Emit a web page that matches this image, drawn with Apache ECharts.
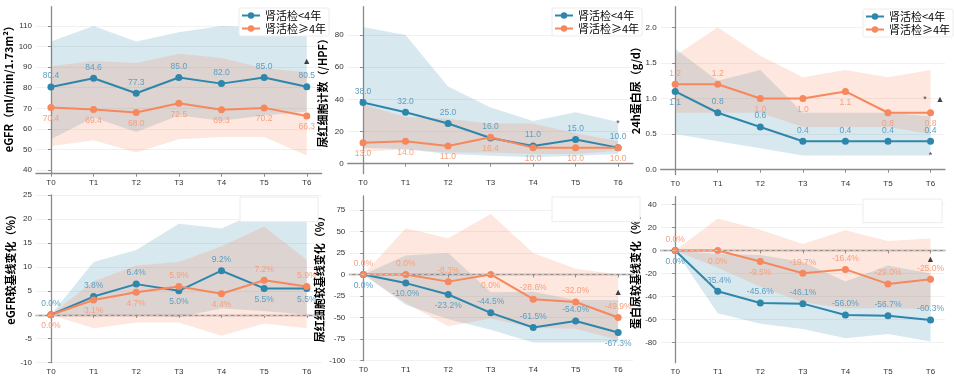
<!DOCTYPE html>
<html><head><meta charset="utf-8">
<script src="https://cdn.jsdelivr.net/npm/echarts@6/dist/echarts.min.js"></script>
<style>html,body{margin:0;padding:0;background:#fff}#c{width:954px;height:382px}</style>
</head><body><div id="c"></div>
<script>
// ---------- data ----------
const categories = ['T0','T1','T2','T3','T4','T5','T6'];
const groupNames = ['肾活检<4年','肾活检≥4年'];

// Panel 1: eGFR
const egfrShort = [80.4, 84.6, 77.3, 85.0, 82.0, 85.0, 80.5];
const egfrLong  = [70.4, 69.4, 68.0, 72.5, 69.3, 70.2, 66.3];
const egfrShortUp = [102.5, 110, 102.5, 107, 110, 109, 107];
const egfrShortLo = [55, 65.5, 58.5, 66.5, 64, 66.5, 68.5];
const egfrLongUp  = [90.5, 93, 92, 96.5, 94.5, 89.5, 87.5];
const egfrLongLo  = [51.5, 54.5, 48.5, 55, 56, 56, 47];
const egfrMarks = [[6, 92.6, '▲']];

// Panel 2: urine RBC count
const rbcShort = [38.0, 32.0, 25.0, 16.0, 11.0, 15.0, 10.0];
const rbcLong  = [13.0, 14.0, 11.0, 16.4, 10.0, 10.0, 10.0];
const rbcShortUp = [85, 80, 48, 35, 26.5, 32, 26];
const rbcShortLo = [10, 9, 6, 5, 4, 5, 6];
const rbcLongUp  = [37, 29, 28, 25, 25, 19, 14];
const rbcLongLo  = [7.5, 9, 7, 7, 6, 6, 8];
const rbcMarks = [[6, 25, '*']];

// Panel 3: 24h proteinuria
const protShort = [1.1, 0.8, 0.6, 0.4, 0.4, 0.4, 0.4];
const protLong  = [1.2, 1.2, 1.0, 1.0, 1.1, 0.8, 0.8];
const protShortUp = [1.7, 1.25, 1.4, 0.8, 0.8, 0.8, 0.75];
const protShortLo = [0.5, 0.4, 0.3, 0.2, 0.2, 0.2, 0.2];
const protLongUp  = [1.6, 2.0, 1.6, 1.3, 1.4, 1.3, 1.4];
const protLongLo  = [0.8, 0.8, 0.8, 0.6, 0.6, 0.6, 0.5];
const protMarks = [[5.87, 0.98, '*'], [6.22, 0.98, '▲'], [6, 0.2, '*']];

// Panel 4: eGFR change from baseline (%)
const egfrChgShort = [0.0, 3.8, 6.4, 5.0, 9.2, 5.5, 5.5];
const egfrChgLong  = [0.0, 3.1, 4.7, 5.9, 4.4, 7.2, 5.9];
const egfrChgShortUp = [0, 11, 13.5, 19, 18, 22, 21];
const egfrChgShortLo = [0, -0.3, 0, -0.5, 1.3, 0.8, 0];
const egfrChgLongUp  = [0, 7, 10.3, 11, 14.3, 18.4, 11.5];
const egfrChgLongLo  = [0, -2.8, -1.6, -1.6, -4.4, -1.8, -2.8];
const egfrChgMarks = [];

// Panel 5: urine RBC change from baseline (%)
const rbcChgShort = [0.0, -10.0, -23.2, -44.5, -61.5, -54.0, -67.3];
const rbcChgLong  = [0.0, 0.0, -8.3, 0.0, -28.6, -32.0, -49.9];
const rbcChgShortUp = [0, 22, 25, -20.5, -20, -29.5, -29.5];
const rbcChgShortLo = [0, -35, -52, -64, -79, -79, -79];
const rbcChgLongUp  = [0, 53.5, 42, 70, 25, 6.5, 0];
const rbcChgLongLo  = [0, -33, -60, -51, -62, -63, -76];
const rbcChgMarks = [[6, -20.5, '▲']];

// Panel 6: proteinuria change from baseline (%)
const protChgShort = [0.0, -35.4, -45.6, -46.1, -56.0, -56.7, -60.3];
const protChgLong  = [0.0, 0.0, -9.5, -19.7, -16.4, -29.0, -25.0];
const protChgShortUp = [0, -3, -4, -10, -27, -13, -20];
const protChgShortLo = [0, -54.5, -63.5, -68, -76, -72.5, -79];
const protChgLongUp  = [0, 27.7, 18, 5.7, 17.6, 8.3, 10.4];
const protChgLongLo  = [0, -15, -31.5, -45, -50, -50, -51];
const protChgMarks = [[6, -8, '▲']];

// y tick labels
const ticks1 = [40, 50, 60, 70, 80, 90, 100, 110];
const ticks2 = [0, 20, 40, 60, 80];
const ticks3 = [0, 0.5, 1.0, 1.5, 2.0];
const ticks4 = [-10, -5, 0, 5, 10, 15, 20, 25];
const ticks5 = [-100, -75, -50, -25, 0, 25, 50, 75];
const ticks6 = [-80, -60, -40, -20, 0, 20, 40];

// ---------- styles / layout ----------
const BLUE = '#2e86ab', ORANGE = '#f7875c';
const BLUE_LBL = '#5c9fc3', ORANGE_LBL = '#f5a07f';
const BLUE_BAND = 'rgba(46,134,171,0.19)', ORANGE_BAND = 'rgba(247,135,92,0.2)';
const T = 'top', B = 'bottom';

const panels = [
  {grid:{left:36, top:6.7, width:285.7, height:167}, x:[-0.35,6.35], y:[38.2,119.4], ticks:ticks1, dec:0,
   name:'eGFR（ml/min/1.73m²）', gap:18, shift:8, s:egfrShort, l:egfrLong, su:egfrShortUp, sl:egfrShortLo, lu:egfrLongUp, ll:egfrLongLo,
   sPos:[T,T,T,T,T,T,T], lPos:[B,B,B,B,B,B,B], marks:egfrMarks, pct:false, zero:false},
  {grid:{left:347.7, top:6.7, width:285.3, height:167}, x:[-0.36,6.35], y:[-6.2,97.6], ticks:ticks2, dec:0,
   name:'尿红细胞计数（/HPF）', gap:19, shift:0, s:rbcShort, l:rbcLong, su:rbcShortUp, sl:rbcShortLo, lu:rbcLongUp, ll:rbcLongLo,
   sPos:[T,T,T,T,T,T,T], lPos:[B,B,B,B,B,B,B], marks:rbcMarks, pct:false, zero:false},
  {grid:{left:660.7, top:6.7, width:284.3, height:168}, x:[-0.34,6.34], y:[-0.07,2.29], ticks:ticks3, dec:1,
   name:'24h蛋白尿（g/d）', gap:17, shift:6, s:protShort, l:protLong, su:protShortUp, sl:protShortLo, lu:protLongUp, ll:protLongLo,
   sPos:[B,T,T,T,T,T,T], lPos:[T,T,B,B,B,B,B], marks:protMarks, pct:false, zero:false},
  {grid:{left:36, top:195, width:285.7, height:167.7}, x:[-0.35,6.35], y:[-10,25], ticks:ticks4, dec:0,
   name:'eGFR较基线变化（%）', gap:18, shift:24, s:egfrChgShort, l:egfrChgLong, su:egfrChgShortUp, sl:egfrChgShortLo, lu:egfrChgLongUp, ll:egfrChgLongLo,
   sPos:[T,T,T,B,T,B,B], lPos:[B,B,B,T,B,T,T], marks:egfrChgMarks, pct:true, zero:true},
  {grid:{left:349.3, top:196, width:283.7, height:164.7}, x:[-0.33,6.35], y:[-100,91], ticks:ticks5, dec:0,
   name:'尿红细胞较基线变化（%）', gap:20, shift:4, s:rbcChgShort, l:rbcChgLong, su:rbcChgShortUp, sl:rbcChgShortLo, lu:rbcChgLongUp, ll:rbcChgLongLo,
   sPos:[B,B,B,T,T,T,B], lPos:[T,T,T,B,T,T,T], marks:rbcChgMarks, pct:true, zero:true},
  {grid:{left:660.7, top:196.7, width:284.3, height:166}, x:[-0.34,6.34], y:[-97.3,46.6], ticks:ticks6, dec:0,
   name:'蛋白尿较基线变化（%）', gap:17, shift:22, s:protChgShort, l:protChgLong, su:protChgShortUp, sl:protChgShortLo, lu:protChgLongUp, ll:protChgLongLo,
   sPos:[B,T,T,T,T,T,T], lPos:[T,B,B,T,T,T,T], marks:protChgMarks, pct:true, zero:true}
];

const AXIS_COLOR = '#8a8a8a';
const grids = [], xAxes = [], yAxes = [], series = [];

function band(gi, up, lo, color) {
  return {
    type:'custom', xAxisIndex:gi, yAxisIndex:gi, z:1, silent:true,
    data: up.map((u, i) => [i, lo[i], u]),
    encode:{x:0, y:[1,2]},
    renderItem: function(params, api) {
      if (params.dataIndex !== 0) return null;
      const pts = [];
      for (let i = 0; i < up.length; i++) pts.push(api.coord([i, up[i]]));
      for (let i = lo.length - 1; i >= 0; i--) pts.push(api.coord([i, lo[i]]));
      return {type:'polygon', shape:{points:pts}, style:{fill:color}};
    }
  };
}

function lineSeries(gi, name, vals, pos, color, lblColor, pct, zero) {
  const s = {
    type:'line', name:name, xAxisIndex:gi, yAxisIndex:gi, z:3, clip:false,
    data: vals.map((v, i) => ({value:[i, v], label:{position:pos[i]}})),
    symbol:'circle', symbolSize:7, showSymbol:true,
    lineStyle:{color:color, width:2}, itemStyle:{color:color},
    label:{show:true, distance:3, fontSize:8.5, fontFamily:'Liberation Sans, Arial, sans-serif', color:lblColor,
      formatter: p => p.value[1].toFixed(1) + (pct ? '%' : '')},
    emphasis:{disabled:true}, animation:false
  };
  if (zero) {
    s.markLine = {silent:true, symbol:'none', label:{show:false},
      lineStyle:{color:'#c8c8c8', type:[3,3], width:1}, data:[{yAxis:0}]};
  }
  return s;
}

panels.forEach((p, gi) => {
  grids.push(Object.assign({containLabel:false}, p.grid));
  xAxes.push({
    type:'value', gridIndex:gi, min:p.x[0], max:p.x[1], minInterval:1, maxInterval:1,
    axisLine:{show:true, lineStyle:{color:AXIS_COLOR, width:1.3}},
    axisTick:{show:true, length:3, lineStyle:{color:AXIS_COLOR}, customValues:[0,1,2,3,4,5,6]},
    axisLabel:{fontSize:8, color:'#333', margin:5, fontFamily:'Liberation Sans, Arial, sans-serif',
      customValues:[0,1,2,3,4,5,6], formatter: v => categories[Math.round(v)] || ''},
    splitLine:{show:false}
  });
  yAxes.push({
    type:'value', gridIndex:gi, min:p.y[0], max:p.y[1],
    name:p.name, nameLocation:'middle', nameGap:p.gap, nameRotate:90,
    nameTextStyle:{fontSize:11, color:'#000', fontWeight:'bold', fontFamily:'Noto Sans CJK SC, sans-serif',
      padding:[0,0,0,p.shift]},
    axisLine:{show:true, lineStyle:{color:AXIS_COLOR, width:1.3}},
    axisTick:{show:true, length:3, lineStyle:{color:AXIS_COLOR}, customValues:p.ticks},
    axisLabel:{fontSize:8, color:'#333', margin:4, fontFamily:'Liberation Sans, Arial, sans-serif',
      customValues:p.ticks, formatter: v => v.toFixed(p.dec)},
    splitLine:{show:true, lineStyle:{color:'#f1f1f1', width:1}}
  });
  series.push(band(gi, p.su, p.sl, BLUE_BAND));
  series.push(band(gi, p.lu, p.ll, ORANGE_BAND));
  series.push(lineSeries(gi, groupNames[0], p.s, p.sPos, BLUE, BLUE_LBL, p.pct, p.zero));
  series.push(lineSeries(gi, groupNames[1], p.l, p.lPos, ORANGE, ORANGE_LBL, p.pct, false));
  if (p.marks.length) {
    series.push({
      type:'scatter', xAxisIndex:gi, yAxisIndex:gi, z:4, symbolSize:0, silent:true,
      data:p.marks, encode:{x:0, y:1},
      label:{show:true, position:'inside', color:'#111', fontSize:9,
        formatter: q => q.value[2]},
      animation:false
    });
  }
});

const legendBase = {
  orient:'vertical', data:groupNames, itemWidth:18, itemHeight:8, itemGap:2,
  textStyle:{fontSize:11, color:'#000', fontFamily:'Noto Sans CJK SC, sans-serif'},
  backgroundColor:'rgba(255,255,255,0.95)', borderColor:'#ececec', borderWidth:1, borderRadius:2,
  padding:[2,3,2,2], selectedMode:false
};
const legends = [
  Object.assign({left:239, top:8}, legendBase),
  Object.assign({left:552, top:8}, legendBase),
  Object.assign({left:863, top:9}, legendBase)
];

const chart = echarts.init(document.getElementById('c'), null, {renderer:'canvas'});
chart.setOption({
  animation:false,
  backgroundColor:'#fff',
  grid:grids, xAxis:xAxes, yAxis:yAxes, legend:legends, series:series,
  graphic:[
    {type:'rect', z:50, shape:{x:240, y:197, width:78, height:24.7}, style:{fill:'#fff', stroke:'#ececec', lineWidth:1}},
    {type:'rect', z:50, shape:{x:552, y:197, width:88, height:24.7}, style:{fill:'#fff', stroke:'#ececec', lineWidth:1}},
    {type:'rect', z:50, shape:{x:863, y:199, width:79, height:23.7}, style:{fill:'#fff', stroke:'#ececec', lineWidth:1}}
  ]
});
</script></body></html>
